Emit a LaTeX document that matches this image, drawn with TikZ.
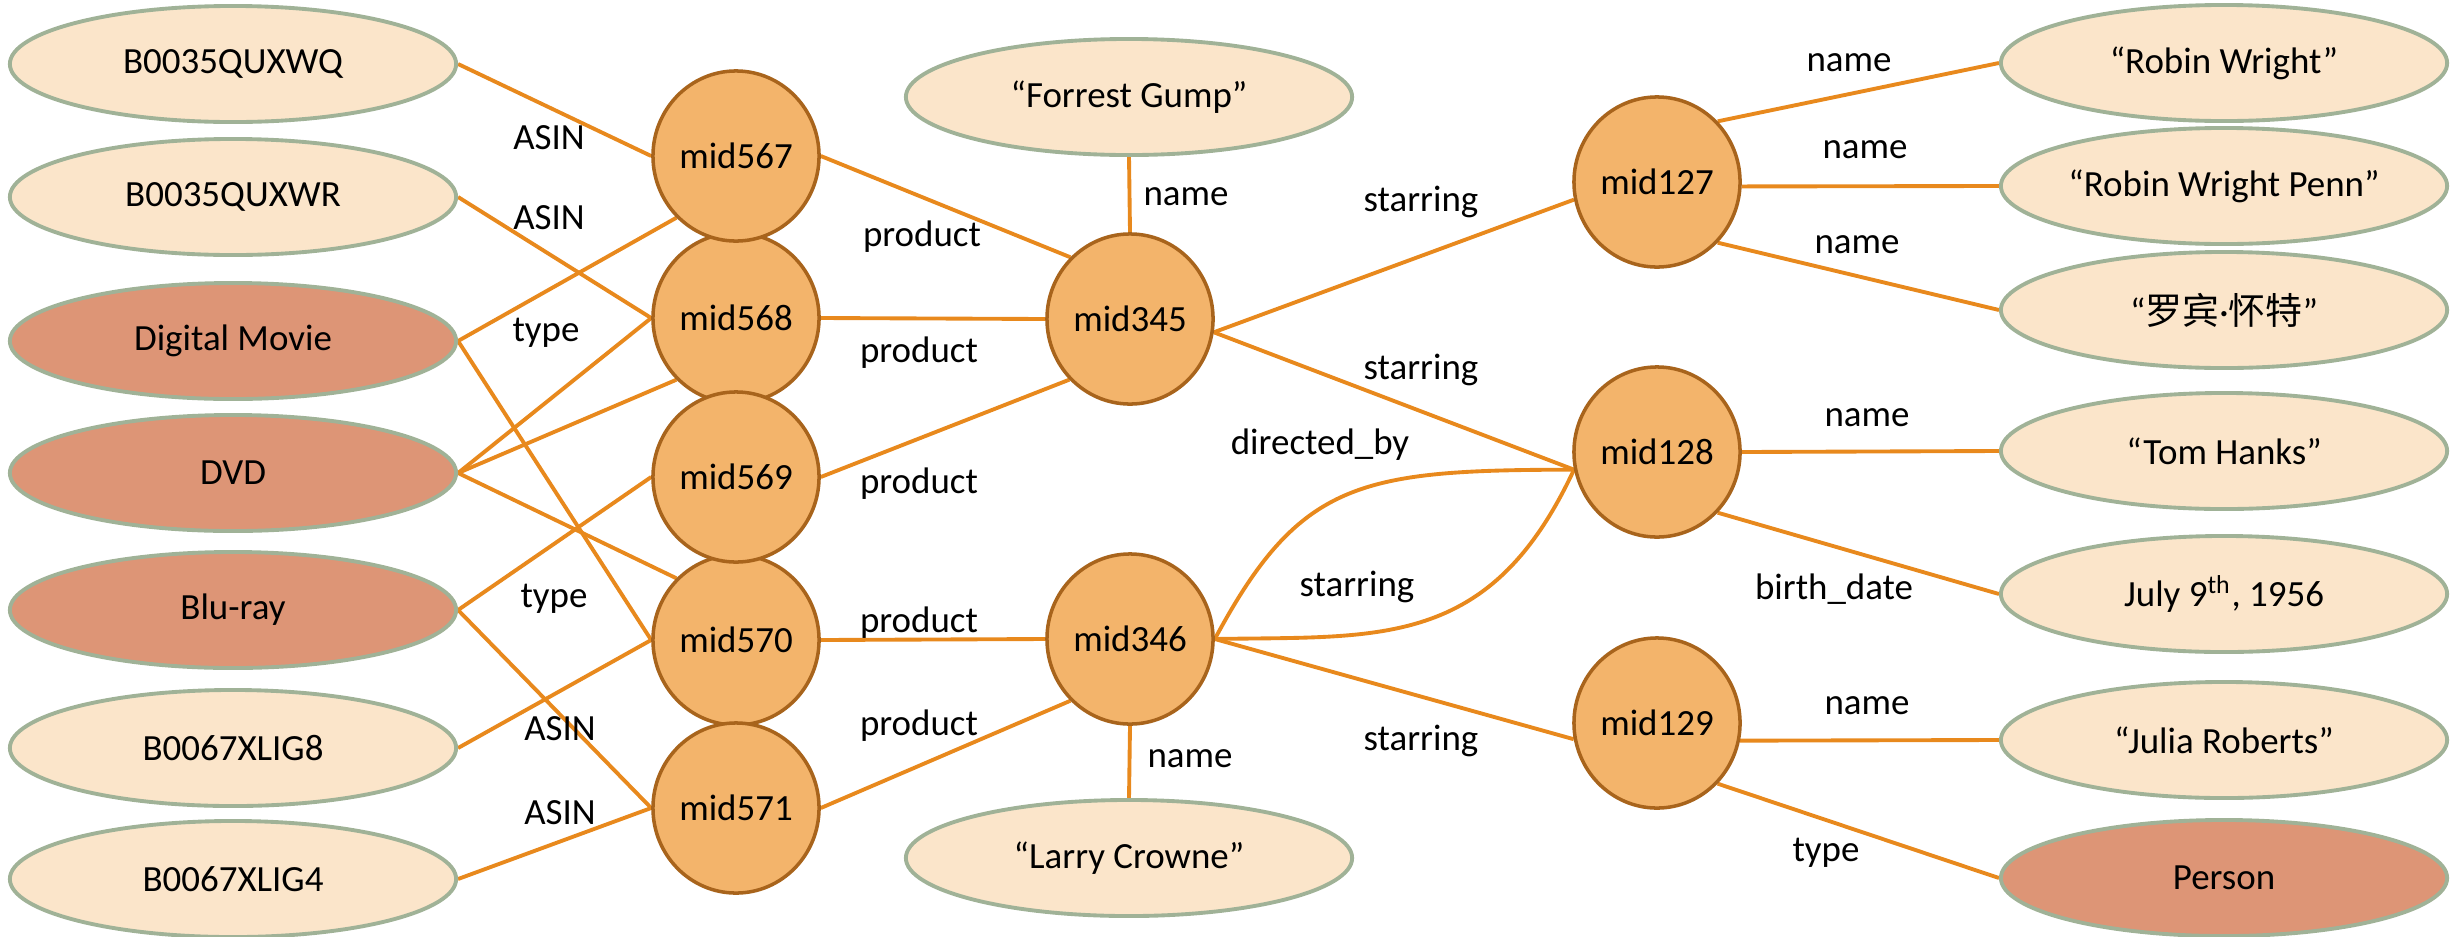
\documentclass[tikz,border=0pt]{standalone}
\usepackage{fontspec}
\setmainfont{Carlito}
\newfontfamily\cjk{Noto Sans CJK SC}
\usetikzlibrary{shapes.geometric,backgrounds}
\definecolor{lightfill}{HTML}{FBE5CA}
\definecolor{darkfill}{HTML}{DD9576}
\definecolor{ovalborder}{HTML}{A0B297}
\definecolor{circfill}{HTML}{F3B46B}
\definecolor{circborder}{HTML}{A8641C}
\definecolor{edgecol}{HTML}{E8891D}
\newcommand\mylblfont{\fontsize{10.5}{12.6}\selectfont}
\tikzset{
  lit/.style={ellipse, draw=ovalborder, line width=1.1pt, fill=lightfill,
    minimum width=4.46cm, minimum height=1.16cm, inner sep=0pt, font=\mylblfont},
  cls/.style={lit, fill=darkfill},
  ent/.style={ellipse, draw=circborder, line width=1pt, fill=circfill,
    minimum width=1.66cm, minimum height=1.70cm, inner sep=0pt, font=\mylblfont},
  rel/.style={font=\mylblfont, inner sep=1pt},
  edge/.style={draw=edgecol, line width=1.1pt}
}
\begin{document}
\begin{tikzpicture}[x=0.01cm, y=-0.01cm]
\useasboundingbox (0,0) rectangle (2464,936);
% left ovals
\node[lit] (q1) at (233,64) {B0035QUXWQ};
\node[lit] (q2) at (233,197) {B0035QUXWR};
\node[cls] (dm) at (233,341) {Digital Movie};
\node[cls] (dvd) at (233,473) {DVD};
\node[cls] (br) at (233,610) {Blu-ray};
\node[lit] (x8) at (233,748) {B0067XLIG8};
\node[lit] (x4) at (233,879) {B0067XLIG4};
% product entities
\node[ent] (m568) at (736,318) {mid568};
\node[ent] (m567) at (736,156) {mid567};
\node[ent] (m570) at (736,640) {mid570};
\node[ent] (m571) at (736,808) {mid571};
\node[ent] (m569) at (736,477) {mid569};
% films
\node[ent] (m345) at (1130,319) {mid345};
\node[ent] (m346) at (1130,639) {mid346};
\node[lit] (fg) at (1129,97) {“Forrest Gump”};
\node[lit] (lc) at (1129,858) {“Larry Crowne”};
% persons
\node[ent] (m127) at (1657,182) {mid127};
\node[ent] (m128) at (1657,452) {mid128};
\node[ent] (m129) at (1657,723) {mid129};
% right ovals
\node[lit] (rw) at (2224,63) {“Robin Wright”};
\node[lit] (rwp) at (2224,186) {“Robin Wright Penn”};
\node[lit] (rwc) at (2224,310) {“{\cjk 罗宾}·{\cjk 怀特}”};
\node[lit] (th) at (2224,451) {“Tom Hanks”};
\node[lit] (bd) at (2224,594) {July 9\textsuperscript{th}, 1956};
\node[lit] (jr) at (2224,740) {“Julia Roberts”};
\node[cls] (pe) at (2224,878) {Person};
% edges
\begin{scope}[on background layer]
\draw[edge] (q1.east) -- (m567.west);
\draw[edge] (q2.east) -- (m568.west);
\draw[edge] (dm.east) -- (m567.226);
\draw[edge] (dm.east) -- (m570.west);
\draw[edge] (dvd.east) -- (m568.west);
\draw[edge] (dvd.east) -- (m568.226);
\draw[edge] (dvd.east) -- (m570.134);
\draw[edge] (br.east) -- (m569.west);
\draw[edge] (br.east) -- (m571.west);
\draw[edge] (x8.east) -- (m570.west);
\draw[edge] (x4.east) -- (m571.west);
\draw[edge] (m567.east) -- (m345.134);
\draw[edge] (m568.east) -- (m345.west);
\draw[edge] (m569.east) -- (m345.225);
\draw[edge] (m570.east) -- (m346.west);
\draw[edge] (m571.east) -- (m346.226);
\draw[edge] (m345.north) -- (fg.south);
\draw[edge] (m346.south) -- (lc.north);
\draw[edge] (m345.-9) -- (m127.192);
\draw[edge] (m345.-9) -- (m128.192);
\draw[edge] (m346.east) .. controls (1300,480) and (1360,470) .. (m128.192);
\draw[edge] (m346.east) .. controls (1380,636) and (1490,650) .. (m128.192);
\draw[edge] (m346.east) -- (m129.191);
\draw[edge] (m127.45) -- (rw.west);
\draw[edge] (m127.-3) -- (rwp.west);
\draw[edge] (m127.-45) -- (rwc.west);
\draw[edge] (m128.east) -- (th.west);
\draw[edge] (m128.-45) -- (bd.west);
\draw[edge] (m129.-12) -- (jr.west);
\draw[edge] (m129.-45) -- (pe.west);
\end{scope}
% relation labels
\node[rel] (l1) at (549,138) {ASIN};
\node[rel] (l2) at (549,218) {ASIN};
\node[rel] (l3) at (546,333) {type};
\node[rel] (l4) at (554,599) {type};
\node[rel] (l5) at (560,729) {ASIN};
\node[rel] (l6) at (560,813) {ASIN};
\node[rel] (l7) at (922,237) {product};
\node[rel] (l8) at (919,353) {product};
\node[rel] (l9) at (919,484) {product};
\node[rel] (l10) at (919,623) {product};
\node[rel] (l11) at (919,726) {product};
\node[rel] (l12) at (1186,197) {name};
\node[rel] (l13) at (1190,759) {name};
\node[rel] (l14) at (1421,202) {starring};
\node[rel] (l15) at (1421,370) {starring};
\node[rel] (l16) at (1320,445) {directed\_by};
\node[rel] (l17) at (1357,587) {starring};
\node[rel] (l18) at (1421,741) {starring};
\node[rel] (l19) at (1849,63) {name};
\node[rel] (l20) at (1865,150) {name};
\node[rel] (l21) at (1857,245) {name};
\node[rel] (l22) at (1867,418) {name};
\node[rel] (l23) at (1834,589) {birth\_date};
\node[rel] (l24) at (1867,706) {name};
\node[rel] (l25) at (1826,853) {type};
\end{tikzpicture}
\end{document}
